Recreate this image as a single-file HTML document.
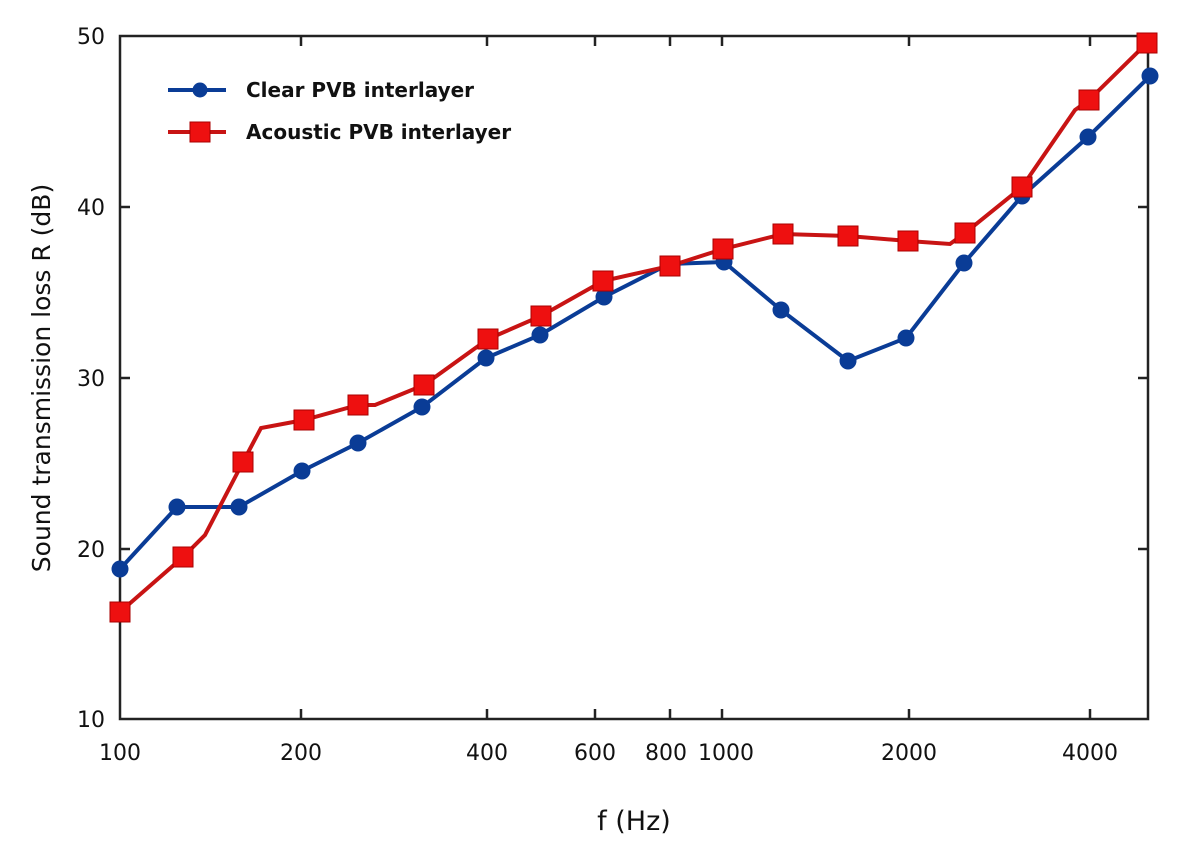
<!DOCTYPE html>
<html><head><meta charset="utf-8"><style>
html,body{margin:0;padding:0;background:#fff;}
svg{display:block;}
text{font-family:"DejaVu Sans","Liberation Sans",sans-serif;fill:#111;}
</style></head><body>
<svg width="1200" height="849" viewBox="0 0 1200 849" xmlns="http://www.w3.org/2000/svg">
<rect width="1200" height="849" fill="#fff"/>
<g stroke="#222" stroke-width="2.5" fill="none">
<rect x="120" y="36" width="1028" height="683"/>
<path d="M120 207h10M120 378h10M120 549h10M1148 207h-10M1148 378h-10M1148 549h-10"/>
<path d="M301 719v-10M487 719v-10M595 719v-10M670 719v-10M722 719v-10M909 719v-10M1090 719v-10"/>
<path d="M301 36v10M487 36v10M595 36v10M670 36v10M722 36v10M909 36v10M1090 36v10"/>
</g>
<g font-size="22" text-anchor="end">
<text x="105" y="44">50</text><text x="105" y="215">40</text><text x="105" y="386">30</text><text x="105" y="557">20</text><text x="105" y="727">10</text>
</g>
<g font-size="22" text-anchor="middle">
<text x="120" y="760">100</text><text x="301" y="760">200</text><text x="487" y="760">400</text><text x="595" y="760">600</text><text x="666" y="760">800</text><text x="726" y="760">1000</text><text x="909" y="760">2000</text><text x="1090" y="760">4000</text>
<text x="634" y="830" font-size="27">f (Hz)</text>
</g>
<text transform="translate(50 378) rotate(-90)" font-size="25" text-anchor="middle">Sound transmission loss  R (dB)</text>
<polyline fill="none" stroke="#0a3c96" stroke-width="4" points="120,569 177,507 239,507 302,471 358,443 422,407 486,358 540,335 604,297 669,264 724,262 781,310 848,361 906,338 964,263 1022,196 1088,137 1150,76"/>
<g fill="#0a3c96">
<circle cx="120" cy="569" r="8.5"/><circle cx="177" cy="507" r="8.5"/><circle cx="239" cy="507" r="8.5"/><circle cx="302" cy="471" r="8.5"/><circle cx="358" cy="443" r="8.5"/><circle cx="422" cy="407" r="8.5"/><circle cx="486" cy="358" r="8.5"/><circle cx="540" cy="335" r="8.5"/><circle cx="604" cy="297" r="8.5"/><circle cx="669" cy="264" r="8.5"/><circle cx="724" cy="262" r="8.5"/><circle cx="781" cy="310" r="8.5"/><circle cx="848" cy="361" r="8.5"/><circle cx="906" cy="338" r="8.5"/><circle cx="964" cy="263" r="8.5"/><circle cx="1022" cy="196" r="8.5"/><circle cx="1088" cy="137" r="8.5"/><circle cx="1150" cy="76" r="8.5"/>
</g>
<polyline fill="none" stroke="#c81414" stroke-width="4" points="120,612 183,557 205,535 243,462 261,428 304,420 358,405 375,405 424,385 488,339 541,316 603,281 670,266 723,249 783,234 848,236 908,241 950,244 965,233 1022,187 1075,110 1089,100 1147,43"/>
<g fill="#ee1010" stroke="#a00" stroke-width="1">
<rect x="110" y="602" width="20" height="20"/><rect x="173" y="547" width="20" height="20"/><rect x="233" y="452" width="20" height="20"/><rect x="294" y="410" width="20" height="20"/><rect x="348" y="395" width="20" height="20"/><rect x="414" y="375" width="20" height="20"/><rect x="478" y="329" width="20" height="20"/><rect x="531" y="306" width="20" height="20"/><rect x="593" y="271" width="20" height="20"/><rect x="660" y="256" width="20" height="20"/><rect x="713" y="239" width="20" height="20"/><rect x="773" y="224" width="20" height="20"/><rect x="838" y="226" width="20" height="20"/><rect x="898" y="231" width="20" height="20"/><rect x="955" y="223" width="20" height="20"/><rect x="1012" y="177" width="20" height="20"/><rect x="1079" y="90" width="20" height="20"/><rect x="1137" y="33" width="20" height="20"/>
</g>
<line x1="168" y1="90" x2="226" y2="90" stroke="#0a3c96" stroke-width="4"/>
<circle cx="200" cy="90" r="7.5" fill="#0a3c96"/>
<text x="246" y="97" font-size="20" font-weight="bold">Clear PVB interlayer</text>
<line x1="168" y1="132" x2="226" y2="132" stroke="#c81414" stroke-width="4"/>
<rect x="190" y="122" width="20" height="20" fill="#ee1010" stroke="#a00"/>
<text x="246" y="139" font-size="20" font-weight="bold">Acoustic PVB interlayer</text>
</svg>
</body></html>
